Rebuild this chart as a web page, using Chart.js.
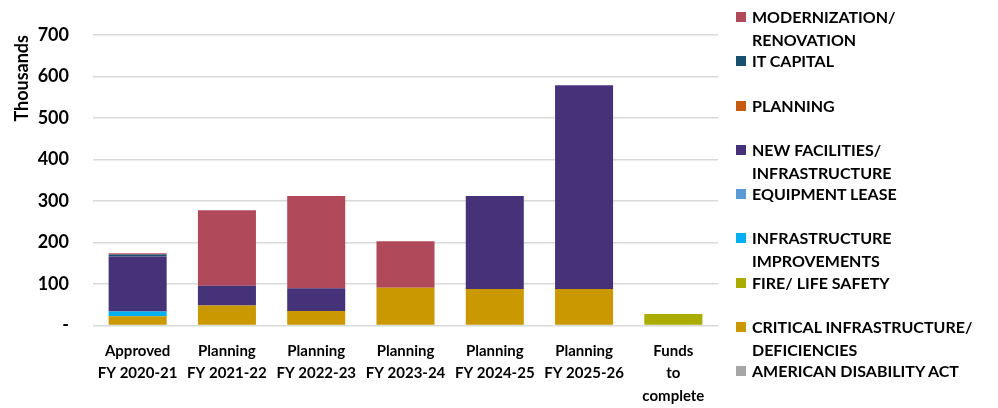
<!DOCTYPE html>
<html>
<head>
<meta charset="utf-8">
<script src="https://cdn.jsdelivr.net/npm/chart.js@4/dist/chart.umd.min.js"></script>
<style>
  html, body { margin: 0; padding: 0; background: #fff; }
  #wrap { position: relative; width: 998px; height: 408px; }
  #legend { position: absolute; left: 736px; top: 5px; margin: 0; padding: 0; list-style: none;
            font: bold 16px Lato, sans-serif; color: #000; }
  #legend li { position: relative; height: 44.3px; padding-left: 16px; line-height: 23px; white-space: nowrap; }
  #legend li span.box { position: absolute; left: 0; top: 7px; width: 10px; height: 10px; }
</style>
</head>
<body>
<div id="wrap">
  <canvas id="chart"></canvas>
  <ul id="legend"></ul>
</div>
<script>
// categories
const periods = [
    ['Approved', 'FY 2020-21'],
    ['Planning', 'FY 2021-22'],
    ['Planning', 'FY 2022-23'],
    ['Planning', 'FY 2023-24'],
    ['Planning', 'FY 2024-25'],
    ['Planning', 'FY 2025-26'],
    ['Funds', 'to', 'complete']
];

// values in thousands, bottom of the stack first
const americanDisability   = [2, 0, 0, 0, 0, 0, 0];
const criticalInfra        = [20, 48, 35, 91, 88, 88, 0];
const fireLifeSafety       = [0, 0, 0, 0, 0, 0, 28];
const infraImprovements    = [12, 0, 0, 0, 0, 0, 0];
const equipmentLease       = [0, 0, 0, 0, 0, 0, 0];
const newFacilities        = [132, 48, 55, 0, 224, 491, 0];
const planningFunds        = [0, 0, 0, 0, 0, 0, 0];
const itCapital            = [5, 0, 0, 0, 0, 0, 0];
const modernization        = [3, 182, 222, 112, 0, 0, 0];

const yTicks = [0, 100, 200, 300, 400, 500, 600, 700];

const seriesNames = [
    ['AMERICAN DISABILITY ACT'],
    ['CRITICAL INFRASTRUCTURE/', 'DEFICIENCIES'],
    ['FIRE/ LIFE SAFETY'],
    ['INFRASTRUCTURE', 'IMPROVEMENTS'],
    ['EQUIPMENT LEASE'],
    ['NEW FACILITIES/', 'INFRASTRUCTURE'],
    ['PLANNING'],
    ['IT CAPITAL'],
    ['MODERNIZATION/', 'RENOVATION']
];
const seriesColors = ['#A6A6A6', '#CA9800', '#AAAD00', '#00B0F0', '#5B9BD5', '#463278', '#C55A11', '#17506F', '#B04A5A'];
const seriesValues = [americanDisability, criticalInfra, fireLifeSafety, infraImprovements,
    equipmentLease, newFacilities, planningFunds, itCapital, modernization];

const FONT = 'Lato, sans-serif';

const datasets = seriesValues.map((vals, i) => ({
    label: seriesNames[i].join(' '),
    data: vals,
    backgroundColor: seriesColors[i],
    borderWidth: 0,
    barPercentage: 0.65,
    categoryPercentage: 1
}));

new Chart(document.getElementById('chart'), {
    type: 'bar',
    data: { labels: periods, datasets: datasets },
    options: {
        responsive: true,
        maintainAspectRatio: false,
        animation: false,
        layout: { padding: { top: 35, right: 280, bottom: 0, left: 0 } },
        plugins: { legend: { display: false }, tooltip: { enabled: false } },
        scales: {
            x: {
                stacked: true,
                grid: { display: false, drawTicks: false },
                border: { display: false },
                ticks: {
                    color: '#000',
                    padding: 14,
                    maxRotation: 0,
                    autoSkip: false,
                    font: { family: FONT, size: 15, weight: 'bold', lineHeight: 1.5 }
                },
                afterFit: (scale) => { scale.height = 408 - 325.5; }
            },
            y: {
                stacked: true,
                min: 0,
                max: 700,
                afterBuildTicks: (scale) => { scale.ticks = yTicks.map(v => ({ value: v })); },
                grid: { color: '#D9D9D9', lineWidth: 1.5, drawTicks: false },
                border: { display: false },
                ticks: {
                    color: '#000',
                    padding: 24,
                    font: { family: FONT, size: 18, weight: 'bold' },
                    callback: (v) => v === 0 ? '-' : v
                },
                title: {
                    display: true,
                    text: 'Thousands',
                    align: 'end',
                    color: '#000',
                    padding: { top: 11, bottom: 0 },
                    font: { family: FONT, size: 18, weight: 'bold' }
                },
                afterFit: (scale) => { scale.width = 93; }
            }
        }
    }
});

// legend on the right, top entry is the top of the stack
const legend = document.getElementById('legend');
for (let i = seriesNames.length - 1; i >= 0; i--) {
    const li = document.createElement('li');
    const box = document.createElement('span');
    box.className = 'box';
    box.style.background = seriesColors[i];
    li.appendChild(box);
    seriesNames[i].forEach((line, k) => {
        if (k > 0) li.appendChild(document.createElement('br'));
        li.appendChild(document.createTextNode(line));
    });
    legend.appendChild(li);
}
</script>
</body>
</html>
